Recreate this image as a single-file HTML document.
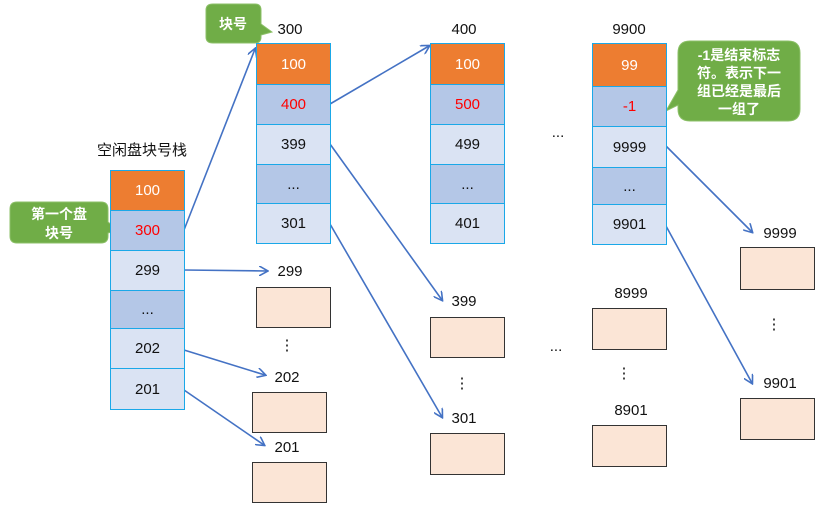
<!DOCTYPE html>
<html><head><meta charset="utf-8"><style>
body{margin:0;background:#fff;width:828px;height:510px;position:relative;overflow:hidden;font-family:"Liberation Sans","Noto Sans CJK SC",sans-serif}
.c{position:absolute;box-sizing:border-box;border:1.5px solid #1AA8E8;display:flex;align-items:center;justify-content:center;font-size:15px;color:#111}
.o{background:#ED7D31;color:#fff}
.m{background:#B4C7E7}
.l{background:#DAE3F3}
.r{color:#F00}
.p{position:absolute;box-sizing:border-box;background:#FBE5D6;border:1px solid #333}
.t{position:absolute;font-size:15px;color:#111;transform:translateX(-50%)}
svg{position:absolute;left:0;top:0}
</style></head><body>
<svg width="828" height="510">
<defs><marker id="a" markerWidth="10" markerHeight="10" refX="8" refY="5" orient="auto" markerUnits="userSpaceOnUse"><path d="M0,0 L9,5 L0,10" fill="none" stroke="#4472C4" stroke-width="1.6"/></marker></defs>
<g stroke="#4472C4" stroke-width="1.6" fill="none" marker-end="url(#a)">
<line x1="184" y1="230" x2="255" y2="49"/>
<line x1="184" y1="270" x2="267" y2="271"/>
<line x1="184" y1="350" x2="265" y2="375"/>
<line x1="184" y1="390" x2="264" y2="445"/>
<line x1="330" y1="104" x2="429" y2="46"/>
<line x1="330" y1="144" x2="442" y2="300"/>
<line x1="330" y1="224" x2="442" y2="417"/>
<line x1="666" y1="146" x2="752" y2="232"/>
<line x1="666" y1="226" x2="752" y2="383"/>
</g>
<g fill="#70AD47" stroke="#8CC068" stroke-width="1">
<path d="M213,4 H255 Q261,4 261,10 V24 L272,32 L261,35 V37 Q261,43 255,43 H213 Q206,43 206,37 V10 Q206,4 213,4Z"/>
<path d="M17,202 H101 Q108,202 108,209 V222 L118,230 L108,233 V236 Q108,243 101,243 H17 Q10,243 10,236 V209 Q10,202 17,202Z"/>
<path d="M690,41 H788 Q800,41 800,53 V109 Q800,121 788,121 H690 Q678,121 678,109 V105 L666,111 L678,90 V53 Q678,41 690,41Z"/>
</g>
<g fill="#fff" font-size="14" font-weight="bold" font-family="Liberation Sans,Noto Sans CJK SC,sans-serif" text-anchor="middle">
<text x="233" y="29">块号</text>
<text x="59" y="219">第一个盘</text><text x="59" y="238">块号</text>
<text x="739" y="60">-1是结束标志</text><text x="739" y="78">符。表示下一</text><text x="739" y="96">组已经是最后</text><text x="739" y="114">一组了</text>
</g>
</svg>
<div class="t" style="left:142px;top:139px">空闲盘块号栈</div>
<div class="c o" style="left:110px;top:170px;width:75px;height:41px">100</div>
<div class="c m r" style="left:110px;top:210px;width:75px;height:41px">300</div>
<div class="c l" style="left:110px;top:250px;width:75px;height:41px">299</div>
<div class="c m" style="left:110px;top:290px;width:75px;height:39px">...</div>
<div class="c l" style="left:110px;top:328px;width:75px;height:41px">202</div>
<div class="c l" style="left:110px;top:368px;width:75px;height:42px">201</div>

<div class="t" style="left:290px;top:21px">300</div>
<div class="c o" style="left:256px;top:43px;width:75px;height:42px">100</div>
<div class="c m r" style="left:256px;top:84px;width:75px;height:41px">400</div>
<div class="c l" style="left:256px;top:124px;width:75px;height:41px">399</div>
<div class="c m" style="left:256px;top:164px;width:75px;height:40px">...</div>
<div class="c l" style="left:256px;top:203px;width:75px;height:41px">301</div>

<div class="t" style="left:464px;top:21px">400</div>
<div class="c o" style="left:430px;top:43px;width:75px;height:42px">100</div>
<div class="c m r" style="left:430px;top:84px;width:75px;height:41px">500</div>
<div class="c l" style="left:430px;top:124px;width:75px;height:41px">499</div>
<div class="c m" style="left:430px;top:164px;width:75px;height:40px">...</div>
<div class="c l" style="left:430px;top:203px;width:75px;height:41px">401</div>

<div class="t" style="left:629px;top:21px">9900</div>
<div class="c o" style="left:592px;top:43px;width:75px;height:44px">99</div>
<div class="c m r" style="left:592px;top:86px;width:75px;height:41px">-1</div>
<div class="c l" style="left:592px;top:126px;width:75px;height:42px">9999</div>
<div class="c m" style="left:592px;top:167px;width:75px;height:38px">...</div>
<div class="c l" style="left:592px;top:204px;width:75px;height:41px">9901</div>

<div class="t" style="left:290px;top:263px">299</div><div class="p" style="left:256px;top:287px;width:75px;height:41px"></div>
<div class="t" style="left:287px;top:336px">⋮</div>
<div class="t" style="left:287px;top:369px">202</div><div class="p" style="left:252px;top:392px;width:75px;height:41px"></div>
<div class="t" style="left:287px;top:439px">201</div><div class="p" style="left:252px;top:462px;width:75px;height:41px"></div>

<div class="t" style="left:464px;top:293px">399</div><div class="p" style="left:430px;top:317px;width:75px;height:41px"></div>
<div class="t" style="left:462px;top:374px">⋮</div>
<div class="t" style="left:464px;top:410px">301</div><div class="p" style="left:430px;top:433px;width:75px;height:42px"></div>

<div class="t" style="left:558px;top:124px">...</div>
<div class="t" style="left:556px;top:338px">...</div>
<div class="t" style="left:631px;top:285px">8999</div><div class="p" style="left:592px;top:308px;width:75px;height:42px"></div>
<div class="t" style="left:624px;top:364px">⋮</div>
<div class="t" style="left:631px;top:402px">8901</div><div class="p" style="left:592px;top:425px;width:75px;height:42px"></div>

<div class="t" style="left:780px;top:225px">9999</div><div class="p" style="left:740px;top:247px;width:75px;height:43px"></div>
<div class="t" style="left:774px;top:315px">⋮</div>
<div class="t" style="left:780px;top:375px">9901</div><div class="p" style="left:740px;top:398px;width:75px;height:42px"></div>
</body></html>
